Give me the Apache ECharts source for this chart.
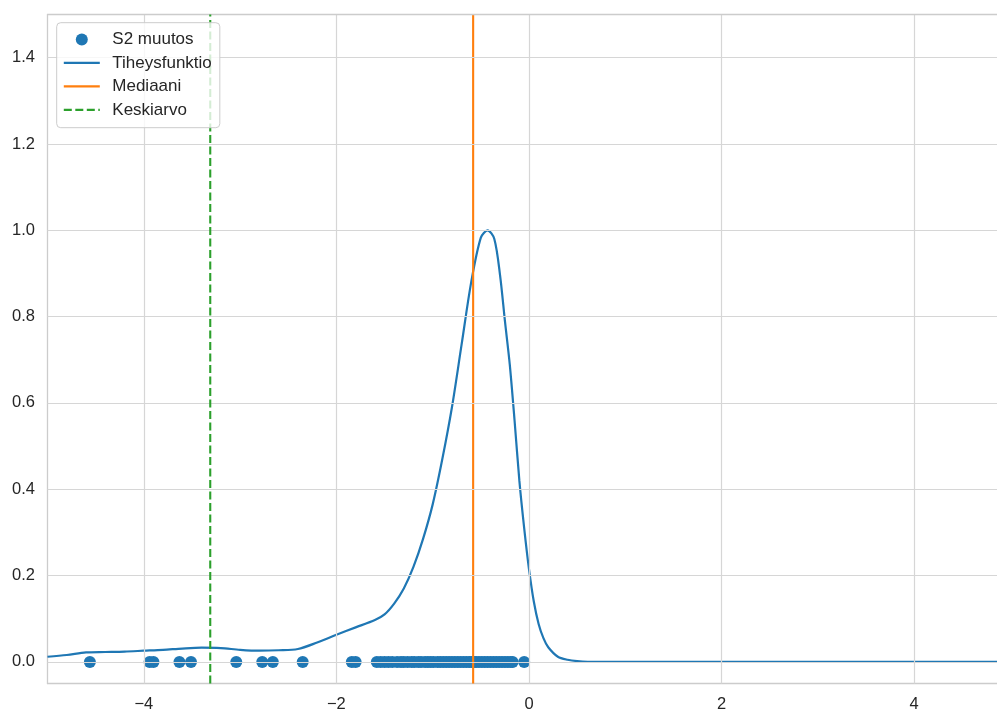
<!DOCTYPE html>
<html>
<head>
<meta charset="utf-8">
<script src="https://cdn.jsdelivr.net/npm/echarts@6/dist/echarts.min.js"></script>
<style>html,body{margin:0;padding:0;background:#fff;}#c{width:997px;height:709px;}</style>
</head>
<body>
<div id="c"></div>
<script>
// ---- data ----
const kdeX = [-5.0,-4.8,-4.6,-4.4,-4.2,-4.0,-3.8,-3.6,-3.4,-3.2,-3.0,-2.8,-2.6,-2.4,-2.2,-2.0,-1.8,-1.6,-1.5,-1.4,-1.3,-1.2,-1.1,-1.0,-0.9,-0.8,-0.7,-0.6,-0.5,-0.43,-0.36,-0.3,-0.25,-0.2,-0.15,-0.1,-0.05,0.0,0.05,0.1,0.15,0.2,0.3,0.4,0.5,0.7,1.0,2.0,3.0,4.0,4.86];
const kdeY = [0.012,0.016,0.022,0.023,0.024,0.026,0.028,0.031,0.033,0.032,0.028,0.026,0.027,0.030,0.045,0.063,0.080,0.097,0.110,0.135,0.170,0.220,0.285,0.365,0.470,0.590,0.735,0.880,0.983,1.000,0.980,0.895,0.790,0.690,0.560,0.420,0.310,0.215,0.140,0.088,0.055,0.034,0.012,0.005,0.002,0.0,0.0,0.0,0.0,0.0,0.0];
const pointsX = [-4.56,-3.94,-3.90,-3.63,-3.51,-3.04,-2.77,-2.66,-2.35,-1.84,-1.80,
  -1.58,-1.54,-1.50,-1.46,-1.42,-1.37,-1.33,-1.30,-1.26,-1.22,-1.19,-1.15,-1.12,-1.08,-1.05,-1.02,-0.99,-0.95,-0.92,-0.89,-0.86,-0.83,-0.80,-0.77,-0.74,-0.71,-0.68,-0.65,-0.62,-0.60,-0.57,-0.55,-0.52,-0.49,-0.46,-0.43,-0.40,-0.37,-0.34,-0.31,-0.28,-0.25,-0.22,-0.19,-0.17,-0.05];
const medianX = -0.58;
const meanX = -3.31;
const xTicks = [-4,-2,0,2,4];
const yTicks = [0,0.2,0.4,0.6,0.8,1.0,1.2,1.4];
const names = ['S2 muutos','Tiheysfunktio','Mediaani','Keskiarvo'];
const yMin = -0.05, yMax = 1.5, xMin = -5, xMax = 4.86;

// ---- chart ----
const font = 'Liberation Sans, Arial, sans-serif';
const gridColor = '#d6d6d6';
const spineColor = '#cccccc';
const fmt = v => (v < 0 ? '\u2212' + Math.abs(v) : String(v));
const hideSym = {opacity: 0, borderWidth: 0};
const chart = echarts.init(document.getElementById('c'), null, {renderer:'canvas'});
chart.setOption({
  animation: false,
  backgroundColor: '#ffffff',
  grid: {left: 47.5, top: 14.5, bottom: 25.5, right: 0, outerBoundsMode: 'none', containLabel: false},
  xAxis: {type: 'value', min: xMin, max: xMax,
    axisLine: {show: true, onZero: false, lineStyle: {color: spineColor, width: 1.3}},
    axisTick: {show: false}, splitLine: {show: false},
    axisLabel: {customValues: xTicks, formatter: fmt, fontSize: 16.5, color: '#262626', fontFamily: font, margin: 12}},
  yAxis: {type: 'value', min: yMin, max: yMax,
    axisLine: {show: true, onZero: false, lineStyle: {color: spineColor, width: 1.3}},
    axisTick: {show: false}, splitLine: {show: false},
    axisLabel: {customValues: yTicks, formatter: v => v.toFixed(1), fontSize: 16.5, color: '#262626', fontFamily: font, margin: 12.5}},
  legend: {
    data: [{name: names[0], icon: 'circle'},
           {name: names[1], itemStyle: hideSym},
           {name: names[2], itemStyle: hideSym},
           {name: names[3], itemStyle: hideSym}],
    orient: 'vertical', left: 56.7, top: 22.7,
    itemWidth: 36, itemHeight: 12, itemGap: 5,
    padding: [7.5, 8, 8.5, 6],
    lineStyle: {width: 2.2},
    backgroundColor: 'rgba(255,255,255,0.8)', borderColor: '#cccccc', borderWidth: 1, borderRadius: 4,
    textStyle: {fontSize: 17, color: '#262626', fontFamily: font, lineHeight: 18.5, padding: [0,0,0,7.5]},
    z: 10
  },
  series: [
    {type: 'line', name: 'grid', data: [], silent: true, z: 0,
      markLine: {silent: true, symbol: 'none', label: {show: false}, animation: false,
        lineStyle: {color: gridColor, width: 1.2, type: 'solid'},
        data: xTicks.map(v => ({xAxis: v})).concat(yTicks.map(v => ({yAxis: v})))
          .concat([{yAxis: yMax, lineStyle: {color: spineColor, width: 1.3}}])}},
    {type: 'scatter', name: names[0], data: pointsX.map(x => [x, 0]), symbol: 'circle', symbolSize: 12,
      itemStyle: {color: '#1f77b4', opacity: 1}, z: 2},
    {type: 'line', name: names[1], data: kdeX.map((x, i) => [x, kdeY[i]]), symbol: 'none', smooth: 0.3,
      lineStyle: {color: '#1f77b4', width: 2.2}, itemStyle: {color: '#1f77b4'}, z: 3},
    {type: 'line', name: names[2], data: [[medianX, yMin], [medianX, yMax]], symbol: 'none',
      lineStyle: {color: '#ff7f0e', width: 2.1}, itemStyle: {color: '#ff7f0e'}, z: 4},
    {type: 'line', name: names[3], data: [[meanX, yMin], [meanX, yMax]], symbol: 'none',
      lineStyle: {color: '#2ca02c', width: 2.1, type: [8, 3.5]}, itemStyle: {color: '#2ca02c'}, z: 5}
  ]
});
</script>
</body>
</html>
